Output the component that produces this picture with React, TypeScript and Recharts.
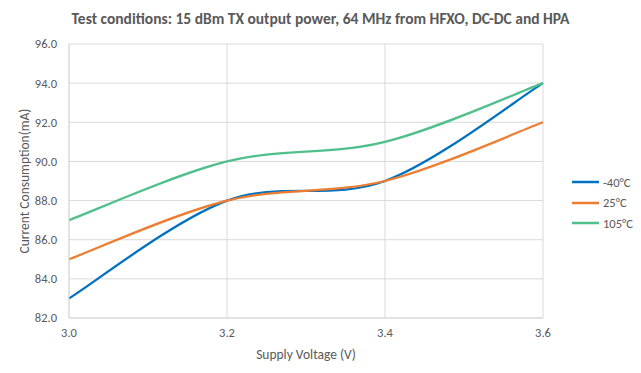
import { CartesianGrid, Line, LineChart, XAxis, YAxis } from "recharts";

const voltages = [3.0, 3.2, 3.4, 3.6];
const minus40 = [83, 88, 89, 94];
const room25 = [85, 88, 89, 92];
const hot105 = [87, 90, 91, 94];

const yTicks = [82, 84, 86, 88, 90, 92, 94, 96];
const xTicks = [3.0, 3.2, 3.4, 3.6];

const series = [
  { key: "m40", name: "-40°C", color: "#0070c0", values: minus40 },
  { key: "r25", name: "25°C", color: "#ed7d31", values: room25 },
  { key: "h105", name: "105°C", color: "#4fbf8b", values: hot105 },
];

const data = voltages.map((v, i) => ({
  v,
  m40: minus40[i],
  r25: room25[i],
  h105: hot105[i],
}));

const FONT = "Carlito, Lato, sans-serif";
const TEXT = "#595959";
const GRID = "#d9d9d9";

// Excel-style smoothed line: Catmull-Rom, ends repeat the end point.
const excelSmooth = (context: any) => {
  let pts: [number, number][] = [];
  return {
    areaStart() {},
    areaEnd() {},
    lineStart() {
      pts = [];
    },
    point(x: number, y: number) {
      pts.push([+x, +y]);
    },
    lineEnd() {
      const n = pts.length;
      if (!n) return;
      context.moveTo(pts[0][0], pts[0][1]);
      for (let i = 0; i < n - 1; i++) {
        const a = pts[i - 1] ?? pts[i];
        const b = pts[i];
        const c = pts[i + 1];
        const d = pts[i + 2] ?? pts[i + 1];
        context.bezierCurveTo(
          b[0] + (c[0] - a[0]) / 6,
          b[1] + (c[1] - a[1]) / 6,
          c[0] - (d[0] - b[0]) / 6,
          c[1] - (d[1] - b[1]) / 6,
          c[0],
          c[1],
        );
      }
    },
  };
};

const LegendBox = () => (
  <div
    style={{
      position: "absolute",
      left: 572,
      top: 172,
      fontFamily: FONT,
      fontSize: 12.5,
      color: TEXT,
    }}
  >
    {series.map((s) => (
      <div key={s.key} style={{ display: "flex", alignItems: "center", height: 20.5 }}>
        <svg width={31} height={4}>
          <line x1={0} y1={2} x2={27} y2={2} stroke={s.color} strokeWidth={2.5} />
        </svg>
        <span>{s.name}</span>
      </div>
    ))}
  </div>
);

export default function App() {
  return (
    <div style={{ position: "absolute", left: 0, top: 0, width: 641, height: 373, background: "#fff" }}>
      <div
        style={{
          position: "absolute",
          top: 9,
          left: 0,
          width: 641,
          textAlign: "center",
          fontFamily: FONT,
          fontWeight: "bold",
          fontSize: 15.5,
          color: TEXT,
          lineHeight: "20px",
        }}
      >
        Test conditions: 15 dBm TX output power, 64 MHz from HFXO, DC-DC and HPA
      </div>
      <LineChart width={641} height={373} data={data} margin={{ top: 44, right: 98, bottom: 0, left: 0 }}>
        <CartesianGrid stroke={GRID} />
        <XAxis
          dataKey="v"
          type="number"
          domain={[3.0, 3.6]}
          ticks={xTicks}
          tickFormatter={(t: number) => t.toFixed(1)}
          tickLine={false}
          tickSize={0}
          tickMargin={10}
          height={55}
          stroke={GRID}
          tick={{ fill: TEXT, fontSize: 12.5, fontFamily: FONT }}
          label={{
            value: "Supply Voltage (V)",
            position: "insideBottom",
            offset: 14,
            fill: TEXT,
            fontSize: 13.5,
            fontFamily: FONT,
          }}
        />
        <YAxis
          type="number"
          domain={[82, 96]}
          ticks={yTicks}
          tickFormatter={(t: number) => t.toFixed(1)}
          tickLine={false}
          tickSize={0}
          tickMargin={12}
          width={69}
          stroke={GRID}
          tick={{ fill: TEXT, fontSize: 12.5, fontFamily: FONT }}
          label={{
            value: "Current Consumption(mA)",
            angle: -90,
            position: "center",
            dx: -10,
            fill: TEXT,
            fontSize: 13.5,
            fontFamily: FONT,
          }}
        />
        {series.map((s) => (
          <Line
            key={s.key}
            dataKey={s.key}
            name={s.name}
            type={excelSmooth as any}
            stroke={s.color}
            strokeWidth={2.25}
            dot={false}
            activeDot={false}
            isAnimationActive={false}
          />
        ))}
      </LineChart>
      <LegendBox />
    </div>
  );
}
